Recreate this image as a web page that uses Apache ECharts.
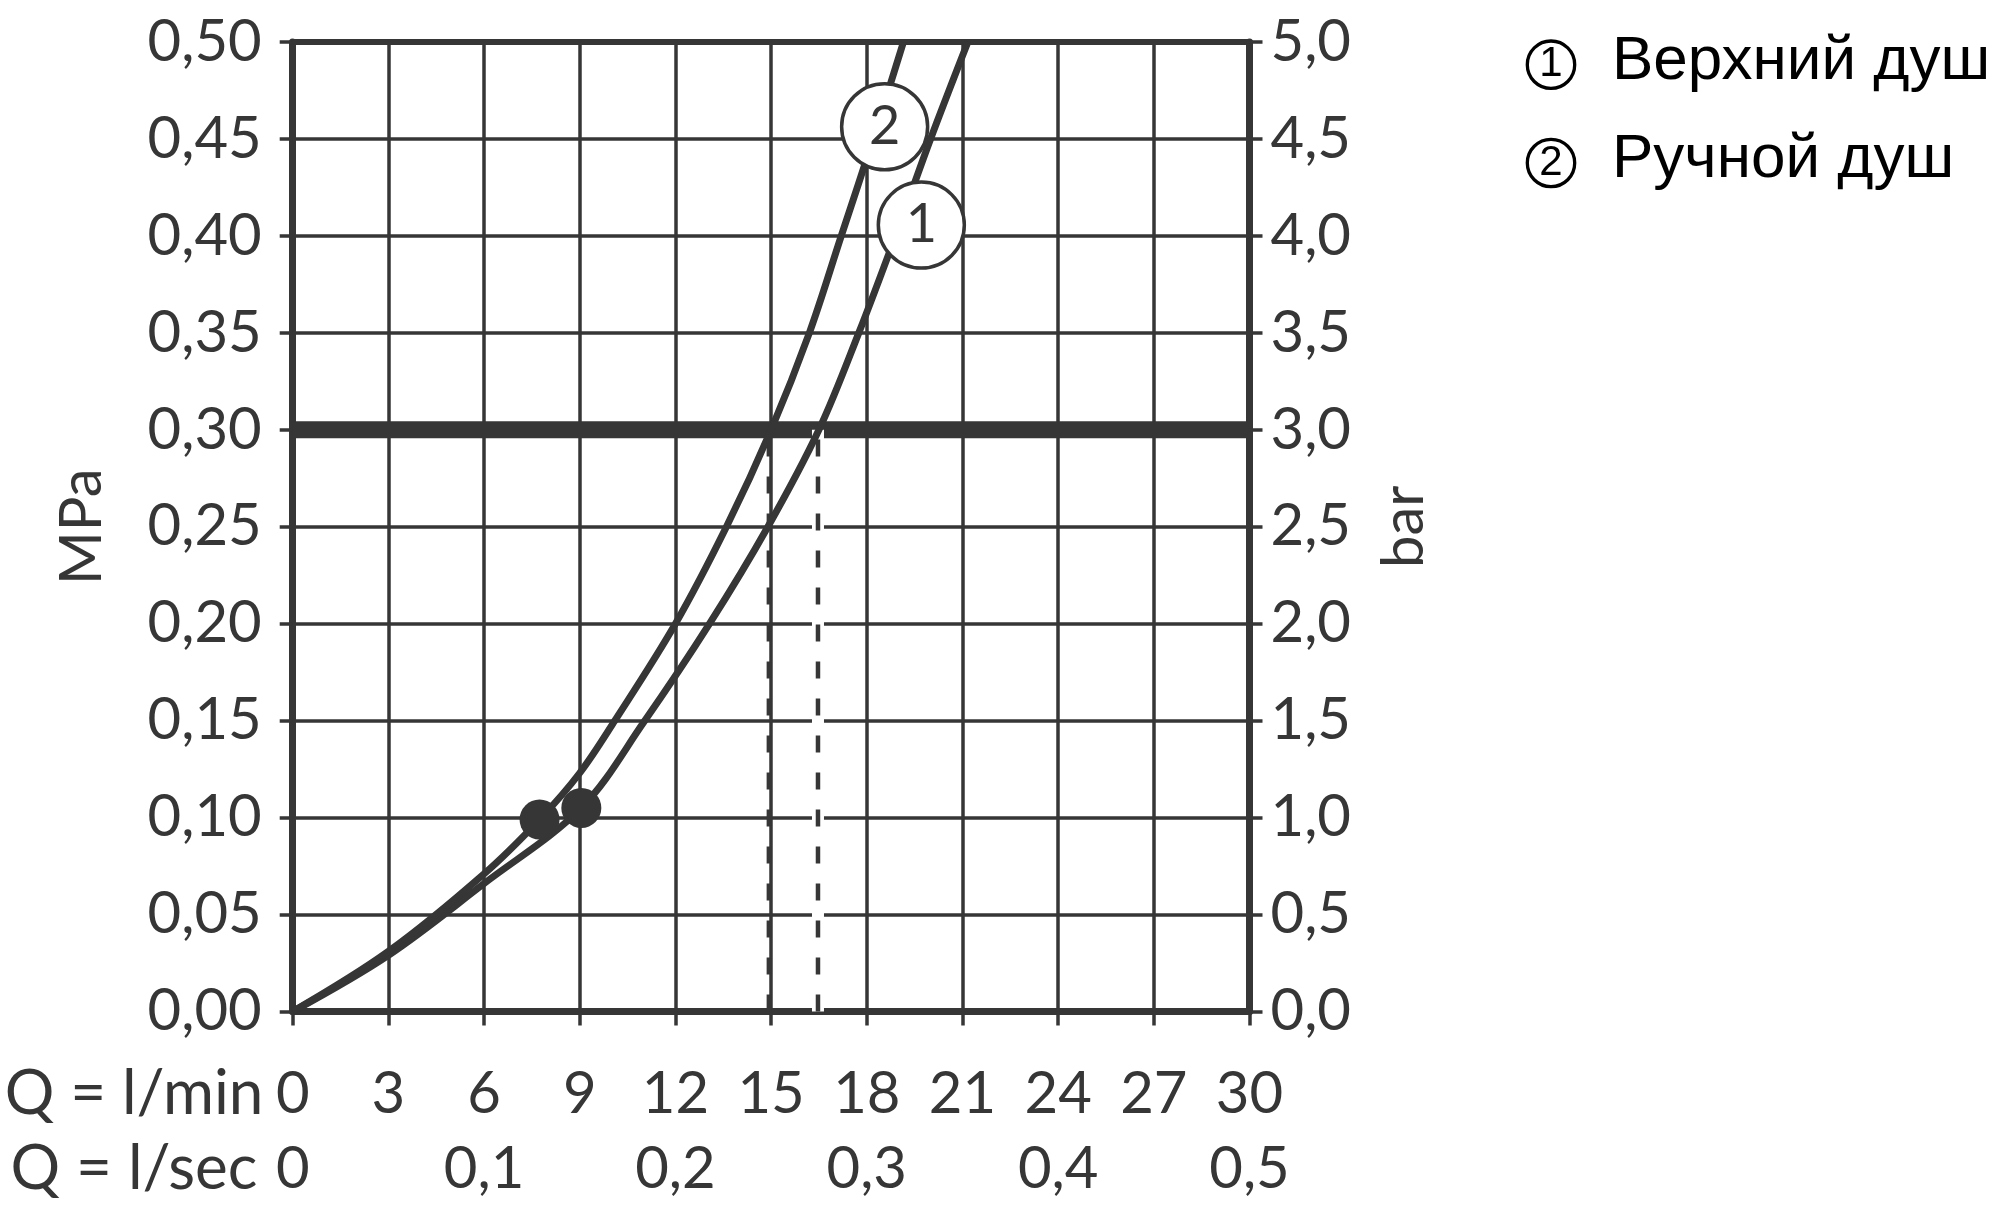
<!DOCTYPE html>
<html><head><meta charset="utf-8">
<script src="https://cdn.jsdelivr.net/npm/echarts@6/dist/echarts.min.js"></script>
<style>html,body{margin:0;padding:0;background:#fff}#c{width:2000px;height:1208px}</style>
</head><body><div id="c"></div>
<script>
// ---- data ----
const mpaLabels = ['0,00','0,05','0,10','0,15','0,20','0,25','0,30','0,35','0,40','0,45','0,50'];
const barLabels = ['0,0','0,5','1,0','1,5','2,0','2,5','3,0','3,5','4,0','4,5','5,0'];
const lminLabels = ['0','3','6','9','12','15','18','21','24','27','30'];
const lsecLabels = ['0','0,1','0,2','0,3','0,4','0,5'];
const axisTitles = ['Q = l/min', 'Q = l/sec'];
const seriesNames = ['Верхний душ', 'Ручной душ'];
const seriesNumbers = ['1', '2'];
// curve 1: Верхний душ  [Q l/min, P MPa]
const curveOverhead = [[0,0],[3,0.029],[6,0.066],[9.05,0.105],[11,0.149],[13.07,0.20],[14.9,0.25],[16.5,0.30],[17.75,0.35],[18.9,0.40],[20.0,0.45],[21.17,0.50]];
// curve 2: Ручной душ
const curveHand = [[0,0],[3,0.031],[6,0.071],[7.74,0.099],[9,0.123],[10.1,0.15],[12,0.20],[13.6,0.25],[15,0.30],[16.2,0.35],[17.2,0.40],[18.2,0.45],[19.15,0.50]];
// minimum-pressure dots (curve 1, curve 2)
const minPressurePoints = [[9.05,0.105],[7.74,0.099]];
// curve number tags (curve 1, curve 2)
const curveTagPoints = [[19.71,0.4056],[18.56,0.4563]];
const operatingPressure = 0.30;
const operatingFlows = [16.47, 14.93];

// ---- style ----
const C = '#363636';
const FONT = 'Lato';
const FS = 58;

const chart = echarts.init(document.getElementById('c'));

const dashedSeries = [];
operatingFlows.forEach((q, i) => {
  if (i === 0) {
    dashedSeries.push({
      type: 'line', data: [[q, 0], [q, operatingPressure]], showSymbol: false, silent: true,
      lineStyle: { color: '#fff', width: 12 }, z: 2
    });
  }
  dashedSeries.push({
    type: 'line', data: [[q, 0], [q, operatingPressure]], showSymbol: false, silent: true,
    lineStyle: { color: C, width: 4.5, type: [17, 20] }, z: 3
  });
});

const graphic = [];
axisTitles.forEach((t, i) => {
  graphic.push({ type: 'text', x: 134, y: 1094 + i * 75,
    style: { text: t, fontSize: 62, fontFamily: FONT, fill: C, align: 'center', verticalAlign: 'middle' } });
});
seriesNames.forEach((n, i) => {
  const cy = 64.7 + i * 98.3;
  graphic.push({ type: 'circle', shape: { cx: 1551, cy: cy, r: 23.7 },
    style: { fill: '#fff', stroke: '#000', lineWidth: 3.3 } });
  graphic.push({ type: 'text', x: 1551, y: cy,
    style: { text: seriesNumbers[i], fontSize: 42, fontFamily: 'Liberation Sans', fill: '#000', align: 'center', verticalAlign: 'middle' } });
  graphic.push({ type: 'text', x: 1612, y: cy - 3,
    style: { text: n, fontSize: 62, fontFamily: 'Liberation Sans', fill: '#000', align: 'left', verticalAlign: 'middle' } });
});

const labelBase = { fontSize: FS, fontFamily: FONT, color: C };

chart.setOption({
  animation: false,
  backgroundColor: '#fff',
  grid: { left: 292.7, right: 750.5, top: 42, bottom: 196.5, containLabel: false },
  xAxis: [
    { type: 'value', position: 'bottom', min: 0, max: 30, interval: 3,
      axisLine: { onZero: false, lineStyle: { color: C, width: 7 } },
      axisTick: { show: true, length: 14, lineStyle: { color: C, width: 3.5 } },
      axisLabel: Object.assign({}, labelBase, { margin: 83, verticalAlign: 'middle',
        formatter: v => lminLabels[Math.round(v / 3)] }),
      splitLine: { show: true, lineStyle: { color: C, width: 3.5 } } },
    { type: 'value', position: 'bottom', min: 0, max: 30, interval: 6,
      axisLine: { show: false, onZero: false }, axisTick: { show: false }, splitLine: { show: false },
      axisLabel: Object.assign({}, labelBase, { margin: 158, verticalAlign: 'middle',
        formatter: v => lsecLabels[Math.round(v / 6)] }) },
    { type: 'value', position: 'top', min: 0, max: 30,
      axisLine: { onZero: false, lineStyle: { color: C, width: 6 } }, axisTick: { show: false },
      axisLabel: { show: false }, splitLine: { show: false } }
  ],
  yAxis: [
    { type: 'value', position: 'left', min: 0, max: 0.5, interval: 0.05,
      name: 'MPa', nameLocation: 'middle', nameGap: 181,
      nameTextStyle: { fontSize: FS, fontFamily: FONT, color: C },
      axisLine: { show: true, onZero: false, lineStyle: { color: C, width: 7 } },
      axisTick: { show: true, length: 13, lineStyle: { color: C, width: 3.5 } },
      axisLabel: Object.assign({}, labelBase, { margin: 31, padding: [0, 0, 26, 0],
        formatter: v => mpaLabels[Math.round(v / 0.05)] }),
      splitLine: { show: true, lineStyle: { color: C, width: 3.5 } } },
    { type: 'value', position: 'right', min: 0, max: 5, interval: 0.5,
      name: 'bar', nameLocation: 'middle', nameGap: 126,
      nameTextStyle: { fontSize: FS, fontFamily: FONT, color: C },
      axisLine: { show: true, onZero: false, lineStyle: { color: C, width: 7 } },
      axisTick: { show: true, length: 13, lineStyle: { color: C, width: 3.5 } },
      axisLabel: Object.assign({}, labelBase, { margin: 21, padding: [0, 0, 26, 0],
        formatter: v => barLabels[Math.round(v / 0.5)] }),
      splitLine: { show: false } }
  ],
  graphic: graphic,
  series: [
    { name: 'ref', type: 'line', data: [[0, operatingPressure], [30, operatingPressure]], showSymbol: false, silent: true,
      lineStyle: { color: C, width: 17 }, z: 2 },
    ...dashedSeries,
    { name: seriesNames[0], type: 'line', data: curveOverhead, smooth: 0.35, showSymbol: false,
      lineStyle: { color: C, width: 7 }, z: 4 },
    { name: seriesNames[1], type: 'line', data: curveHand, smooth: 0.35, showSymbol: false,
      lineStyle: { color: C, width: 7 }, z: 4 },
    { type: 'scatter', data: minPressurePoints, symbol: 'circle', symbolSize: 40,
      itemStyle: { color: C, opacity: 1 }, z: 5 },
    { type: 'scatter', data: curveTagPoints.map((p, i) => ({ value: p, name: seriesNumbers[i] })),
      symbol: 'circle', symbolSize: 86,
      itemStyle: { color: '#fff', borderColor: C, borderWidth: 3.5, opacity: 1 },
      label: { show: true, position: 'inside', formatter: p => p.name, fontSize: 54, fontFamily: FONT, color: C },
      z: 6 }
  ]
});
</script></body></html>
